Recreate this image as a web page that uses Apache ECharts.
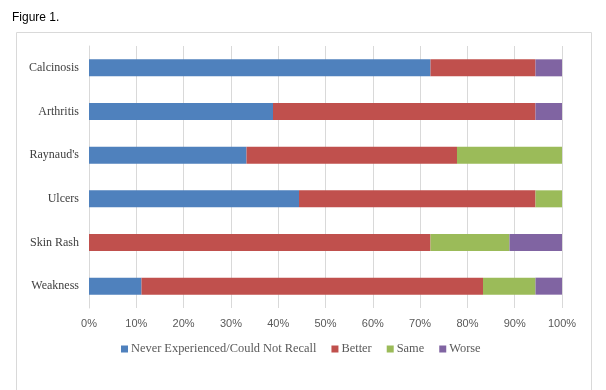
<!DOCTYPE html>
<html>
<head>
<meta charset="utf-8">
<script src="https://cdn.jsdelivr.net/npm/echarts@6/dist/echarts.min.js"></script>
<style>html,body{margin:0;padding:0;background:#fff}#c{width:606px;height:390px}</style>
</head>
<body>
<div id="c"></div>
<script>
var categories = ["Calcinosis", "Arthritis", "Raynaud's", "Ulcers", "Skin Rash", "Weakness"];
var seriesNames = ["Never Experienced/Could Not Recall", "Better", "Same", "Worse"];
var neverValues = [72.2, 38.9, 33.3, 44.4, 0, 11.1];
var betterValues = [22.2, 55.5, 44.5, 50.0, 72.2, 72.2];
var sameValues = [0, 0, 22.2, 5.6, 16.7, 11.1];
var worseValues = [5.6, 5.6, 0, 0, 11.1, 5.6];
var tickLabels = ["0%", "10%", "20%", "30%", "40%", "50%", "60%", "70%", "80%", "90%", "100%"];
var colors = ["#4F81BD", "#C0504D", "#9BBB59", "#8064A2"];

var chart = echarts.init(document.getElementById('c'), null, {renderer: 'canvas'});
var valuesList = [neverValues, betterValues, sameValues, worseValues];
var series = seriesNames.map(function (n, i) {
  return {
    name: n, type: 'bar', stack: 'total', data: valuesList[i],
    barWidth: 17, itemStyle: {color: colors[i]}
  };
});
chart.setOption({
  animation: false,
  textStyle: {fontFamily: 'Liberation Serif'},
  title: {text: 'Figure 1.', left: 7, top: 7,
    textStyle: {fontFamily: 'Liberation Sans', fontSize: 12, fontWeight: 'normal', color: '#000'}},
  graphic: [{type: 'rect', shape: {x: 16.5, y: 32.5, width: 575, height: 400},
    style: {fill: 'none', stroke: '#D9D9D9', lineWidth: 1}, silent: true}],
  grid: {left: 89, right: 44, top: 46, bottom: 82, containLabel: false},
  legend: {
    data: seriesNames, bottom: 30, left: 116, itemWidth: 7, itemHeight: 7, itemGap: 15,
    icon: 'rect',
    textStyle: {fontFamily: 'Liberation Serif', fontSize: 12.4, color: '#595959', padding: [0, 0, 0, -2]}
  },
  xAxis: {
    type: 'value', min: 0, max: 100, interval: 10,
    axisLine: {show: false}, axisTick: {show: false},
    splitLine: {lineStyle: {color: '#D9D9D9'}},
    axisLabel: {
      fontFamily: 'Liberation Sans', fontSize: 11, color: '#595959', margin: 10,
      formatter: function (v) { return tickLabels[Math.round(v / 10)]; }
    }
  },
  yAxis: {
    type: 'category', data: categories, inverse: true,
    axisLine: {show: true, lineStyle: {color: '#D9D9D9'}}, axisTick: {show: false},
    axisLabel: {fontFamily: 'Liberation Serif', fontSize: 12, color: '#404040', margin: 10}
  },
  series: series
});
</script>
</body>
</html>
